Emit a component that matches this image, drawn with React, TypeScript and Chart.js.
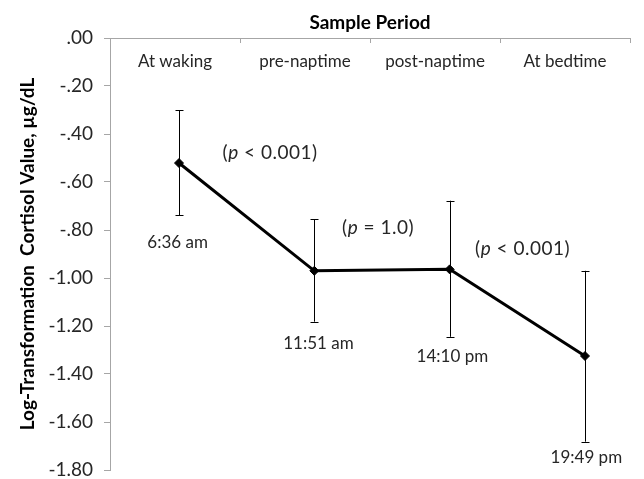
import React, { useEffect, useRef } from "react";
import { Chart, registerables } from "chart.js";

Chart.register(...registerables);

// ---------- data ----------
const categories = ["At waking", "pre-naptime", "post-naptime", "At bedtime"];
const meanValues = [-0.521, -0.97, -0.964, -1.325];
const errorHigh = [-0.3, -0.755, -0.678, -0.97];
const errorLow = [-0.7375, -1.182, -1.245, -1.682];

const timeLabels = ["6:36 am", "11:51 am", "14:10 pm", "19:49 pm"];
const timeLabelX = [-0.01, 0.03, 0.02, 0.01];
const timeLabelY = [-0.854, -1.271, -1.329, -1.75];

const pValueRest = ["< 0.001", "= 1.0", "< 0.001"];
const pValueX = [0.673, 1.471, 2.539];
const pValueY = [-0.479, -0.792, -0.879];

const yMin = -1.8;
const yMax = 0;
const yStep = 0.2;

const FONT = "Lato";

function formatTick(v: number): string {
  if (Math.abs(v) < 1e-9) return ".00";
  const s = v.toFixed(2);
  return s.replace(/^(-?)0\./, "$1.");
}

const annotationPlugin = {
  id: "annotations",
  beforeDatasetsDraw(chart: any) {
    const ctx = chart.ctx;
    const xs = chart.scales.x;
    const ys = chart.scales.y;
    ctx.save();
    ctx.strokeStyle = "#000";
    ctx.lineWidth = 1;
    for (let i = 0; i < meanValues.length; i++) {
      const x = Math.round(xs.getPixelForValue(i)) + 0.5;
      const yT = ys.getPixelForValue(errorHigh[i]);
      const yB = ys.getPixelForValue(errorLow[i]);
      ctx.beginPath();
      ctx.moveTo(x, yT);
      ctx.lineTo(x, yB);
      ctx.moveTo(x - 4, Math.round(yT) + 0.5);
      ctx.lineTo(x + 4, Math.round(yT) + 0.5);
      ctx.moveTo(x - 4, Math.round(yB) + 0.5);
      ctx.lineTo(x + 4, Math.round(yB) + 0.5);
      ctx.stroke();
    }
    ctx.restore();
  },
  afterDatasetsDraw(chart: any) {
    const ctx = chart.ctx;
    const xs = chart.scales.x;
    const ys = chart.scales.y;
    ctx.save();
    ctx.fillStyle = "#262626";
    ctx.textBaseline = "middle";
    ctx.textAlign = "center";
    ctx.font = `17px ${FONT}`;
    for (let i = 0; i < timeLabels.length; i++) {
      ctx.fillText(
        timeLabels[i],
        xs.getPixelForValue(i + timeLabelX[i]),
        ys.getPixelForValue(timeLabelY[i])
      );
    }
    ctx.textAlign = "left";
    try {
      (ctx as any).letterSpacing = "0.5px";
    } catch (e) {}
    for (let i = 0; i < pValueRest.length; i++) {
      const normal = `19px ${FONT}`;
      const italic = `italic 19px ${FONT}`;
      const parts = [
        { t: "(", f: normal },
        { t: "p", f: italic },
        { t: " " + pValueRest[i] + ")", f: normal },
      ];
      let total = 0;
      for (const p of parts) {
        ctx.font = p.f;
        total += ctx.measureText(p.t).width;
      }
      let x = xs.getPixelForValue(pValueX[i]) - total / 2;
      const y = ys.getPixelForValue(pValueY[i]);
      for (const p of parts) {
        ctx.font = p.f;
        ctx.fillText(p.t, x, y);
        x += ctx.measureText(p.t).width;
      }
    }
    ctx.restore();
  },
};

export default function App() {
  const canvasRef = useRef<HTMLCanvasElement | null>(null);

  useEffect(() => {
    const canvas = canvasRef.current;
    if (!canvas) return;
    const chart = new Chart(canvas, {
      type: "line",
      data: {
        datasets: [
          {
            data: meanValues.map((y, i) => ({ x: i, y })),
            borderColor: "#000",
            borderWidth: 3,
            pointStyle: "rectRot",
            pointRadius: 4.5,
            pointBackgroundColor: "#000",
            pointBorderColor: "#000",
            pointBorderWidth: 1,
            tension: 0,
            xAxisID: "x",
            yAxisID: "y",
          },
        ],
      },
      options: {
        animation: false,
        responsive: false,
        devicePixelRatio: 1,
        layout: { padding: { left: 0, top: 0, right: 14, bottom: 9 } },
        plugins: {
          legend: { display: false },
          tooltip: { enabled: false },
        },
        scales: {
          x: {
            type: "linear",
            display: false,
            min: -0.5099,
            max: 3.3325,
          },
          x2: {
            type: "category",
            labels: categories,
            position: "top",
            offset: true,
            grid: {
              drawOnChartArea: false,
              drawTicks: true,
              tickLength: -5,
              color: "#a6a6a6",
              offset: true,
            },
            border: { color: "#a6a6a6", width: 1 },
            ticks: {
              mirror: true,
              padding: 13,
              color: "#262626",
              font: { family: FONT, size: 17 },
              maxRotation: 0,
              autoSkip: false,
            },
            title: {
              display: true,
              text: "Sample Period",
              color: "#000",
              font: { family: FONT, size: 19, weight: "bold" },
              padding: { top: 11, bottom: 0 },
            },
            afterFit: (s: any) => {
              s.height = 38;
              s.paddingLeft = 0;
              s.paddingRight = 0;
            },
          },
          y: {
            type: "linear",
            position: "left",
            min: yMin,
            max: yMax,
            ticks: {
              stepSize: yStep,
              callback: (v: any) => formatTick(Number(v)),
              color: "#262626",
              font: { family: FONT, size: 19 },
              padding: 11,
            },
            grid: {
              drawOnChartArea: false,
              drawTicks: true,
              tickLength: 6,
              color: "#a6a6a6",
            },
            border: { color: "#a6a6a6", width: 1 },
            title: {
              display: true,
              text: "Log-Transformation  Cortisol Value, µg/dL",
              color: "#000",
              font: { family: FONT, size: 19, weight: "bold" },
              padding: { top: 16, bottom: 0 },
            },
            afterFit: (s: any) => {
              s.width = 110;
              s.paddingTop = 0;
              s.paddingBottom = 0;
            },
          },
        },
      } as any,
      plugins: [annotationPlugin],
    });
    return () => chart.destroy();
  }, []);

  return (
    <div
      style={{
        position: "fixed",
        left: 0,
        top: 0,
        width: 644,
        height: 479,
        background: "#fff",
      }}
    >
      <canvas
        ref={canvasRef}
        width={644}
        height={479}
        style={{ display: "block", width: 644, height: 479 }}
      />
    </div>
  );
}
